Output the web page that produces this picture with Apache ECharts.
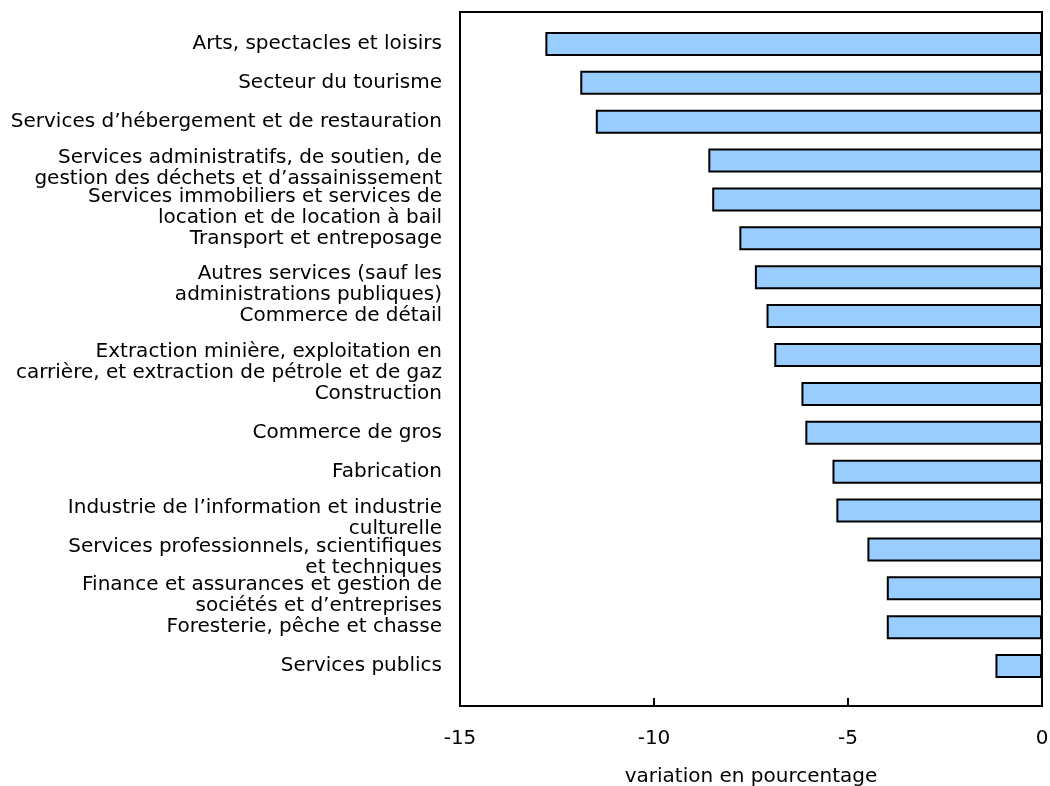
<!DOCTYPE html>
<html><head><meta charset="utf-8">
<script src="https://cdn.jsdelivr.net/npm/echarts@6/dist/echarts.min.js"></script>
<style>html,body{margin:0;padding:0;background:#fff}#c{width:1050px;height:786px}</style>
</head><body><div id="c"></div>
<script>
const categories = [
  "Arts, spectacles et loisirs",
  "Secteur du tourisme",
  "Services d\u2019hébergement et de restauration",
  "Services administratifs, de soutien, de\ngestion des déchets et d\u2019assainissement",
  "Services immobiliers et services de\nlocation et de location à bail",
  "Transport et entreposage",
  "Autres services (sauf les\nadministrations publiques)",
  "Commerce de détail",
  "Extraction minière, exploitation en\ncarrière, et extraction de pétrole et de gaz",
  "Construction",
  "Commerce de gros",
  "Fabrication",
  "Industrie de l\u2019information et industrie\nculturelle",
  "Services professionnels, scientifiques\net techniques",
  "Finance et assurances et gestion de\nsociétés et d\u2019entreprises",
  "Foresterie, pêche et chasse",
  "Services publics"
];
const values = [-12.8, -11.9, -11.5, -8.6, -8.5, -7.8, -7.4, -7.1, -6.9, -6.2, -6.1, -5.4, -5.3, -4.5, -4.0, -4.0, -1.2];
const xTicks = [-15, -10, -5, 0];
const axisName = "variation en pourcentage";

const font = "DejaVu Sans";
const fs = 20;
const chart = echarts.init(document.getElementById('c'), null, {renderer: 'canvas'});
chart.setOption({
  animation: false,
  grid: [
    {left: 460, right: 8, top: 12, bottom: 80, show: true, borderColor: '#000', borderWidth: 2, outerBoundsMode: 'none', containLabel: false},
    {left: 460, right: 8, top: 24.5, bottom: 100.5, outerBoundsMode: 'none', containLabel: false}
  ],
  xAxis: [{
    gridIndex: 0, type: 'value', min: xTicks[0], max: xTicks[xTicks.length - 1], interval: 5,
    name: axisName, nameLocation: 'middle', nameGap: 61,
    nameTextStyle: {fontFamily: font, fontSize: fs, color: '#000'},
    axisLine: {show: true, lineStyle: {color: '#000', width: 2}},
    axisTick: {show: true, inside: true, length: 8, lineStyle: {color: '#000', width: 2}},
    axisLabel: {fontFamily: font, fontSize: fs, color: '#000', margin: 23},
    splitLine: {show: false}
  }, {
    gridIndex: 1, type: 'value', min: xTicks[0], max: xTicks[xTicks.length - 1], show: false
  }],
  yAxis: [{
    gridIndex: 0, type: 'value', show: false, min: 0, max: 1
  }, {
    gridIndex: 1, type: 'category', data: categories, inverse: true,
    axisLine: {show: false, onZero: false},
    axisTick: {show: false},
    axisLabel: {
      fontFamily: font, fontSize: fs, color: '#000', margin: 18, lineHeight: 21, align: 'right',
      formatter: function (v) { return v.indexOf('\n') >= 0 ? '{s|}\n' + v : v; },
      rich: {s: {lineHeight: 15, fontSize: 1}}
    }
  }],
  series: [{
    type: 'bar', xAxisIndex: 1, yAxisIndex: 1, data: values, barWidth: 24,
    itemStyle: {color: '#99ccff', borderColor: '#000', borderWidth: 2}
  }]
});
</script></body></html>
